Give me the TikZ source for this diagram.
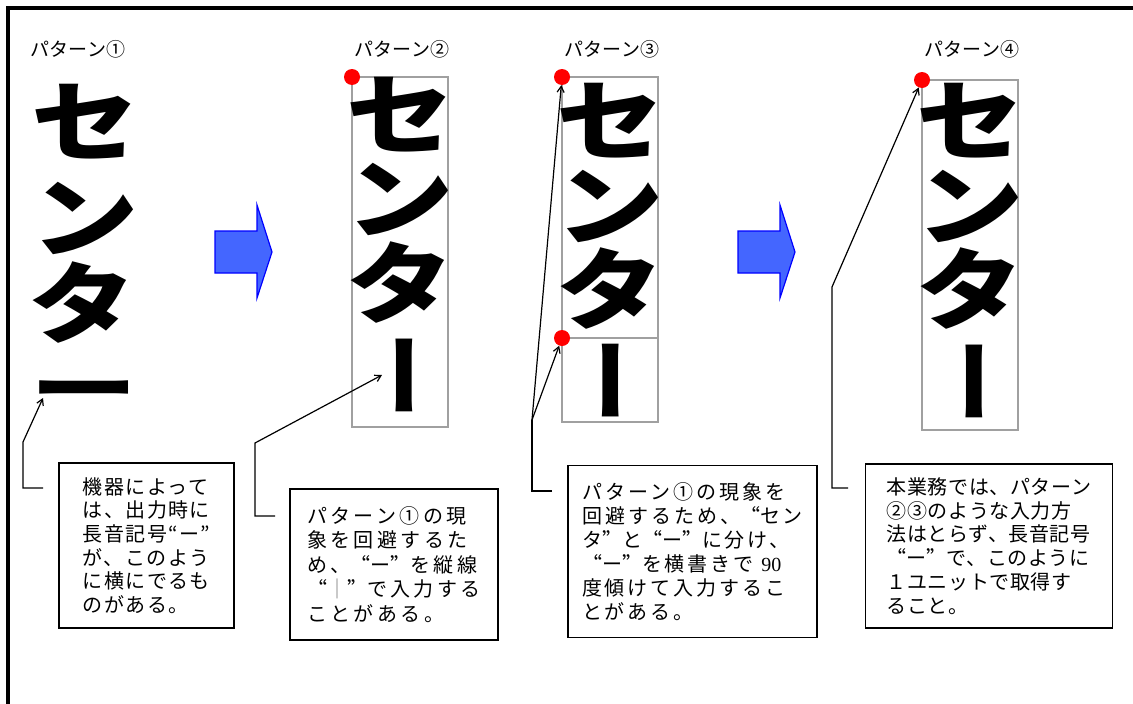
\documentclass[tikz,border=0pt]{standalone}
\usepackage{fontspec}
\newfontfamily\jp{Noto Sans CJK JP}
\newfontfamily\jpq{Noto Sans CJK SC}
\newfontfamily\latser{Liberation Serif}
\newcommand\ql{{\jpq “}}
\newcommand\qr{{\jpq ”}}
\usetikzlibrary{arrows.meta,calc}
\begin{document}
\begin{tikzpicture}[x=1pt,y=-1pt,
  bigglyph/.style={inner sep=0pt, anchor=center, font=\jp\bfseries\fontsize{88}{88}\selectfont},
  lbl/.style={inner sep=0pt, anchor=center, font=\jp\fontsize{19}{19}\selectfont},
  note/.style={draw=black, line width=1.5pt, inner sep=0pt, align=left, anchor=center},
  grayframe/.style={draw={rgb,255:red,160;green,160;blue,160}, line width=1.6pt},
  reddot/.style={circle, fill=red, inner sep=0pt, minimum size=16pt},
  conn/.style={line width=1.2pt, line join=miter, -{Straight Barb[length=6pt,width=7pt]}},
  bluearrow/.style={fill={rgb,255:red,68;green,102;blue,255}, draw={rgb,255:red,0;green,0;blue,255}, line width=1.2pt, line join=miter}]
\useasboundingbox (0,0) rectangle (1133,704);
\fill[white] (0,0) rectangle (1133,704);
% outer frame
\draw[line width=4pt, line join=miter] (8,704) -- (8,8) -- (1133,8);

% labels
\node[lbl] (l1) at (78,49) {パターン①};
\node[lbl] (l2) at (402,49) {パターン②};
\node[lbl] (l3) at (612,49) {パターン③};
\node[lbl] (l4) at (972,49) {パターン④};

% pattern 1
\node[bigglyph] (p1a) at (85,122) {\scalebox{1.22}[1]{セ}};
\node[bigglyph] (p1b) at (85,218) {\scalebox{1.22}[1]{ン}};
\node[bigglyph] (p1c) at (82,303) {\scalebox{1.22}[1]{タ}};
\node[bigglyph] (p1d) at (84,398) {\scalebox{1.22}[0.8]{ー}};

% pattern 2
\node[grayframe, minimum width=96pt, minimum height=350pt, inner sep=0pt] (f2) at (400,252) {};
\node[bigglyph] (p2a) at (400,115) {\scalebox{1.22}[1]{セ}};
\node[bigglyph] (p2b) at (400,199) {\scalebox{1.22}[1]{ン}};
\node[bigglyph] (p2c) at (400,283) {\scalebox{1.22}[1]{タ}};
\node[bigglyph] (p2d) at (392,375) {\rotatebox[origin=c]{-90}{ー}};
\node[reddot] (d2) at (352,77) {};

% pattern 3
\node[grayframe, minimum width=96pt, minimum height=261pt, inner sep=0pt] (f3a) at (610,207.5) {};
\node[grayframe, minimum width=96pt, minimum height=84pt, inner sep=0pt] (f3b) at (610,380) {};
\node[bigglyph] (p3a) at (610,121) {\scalebox{1.22}[1]{セ}};
\node[bigglyph] (p3b) at (610,206) {\scalebox{1.22}[1]{ン}};
\node[bigglyph] (p3c) at (610,289) {\scalebox{1.22}[1]{タ}};
\node[bigglyph] (p3d) at (623,380) {\rotatebox[origin=c]{90}{ー}};
\node[reddot] (d3a) at (562,77) {};
\node[reddot] (d3b) at (562,338) {};

% pattern 4
\node[grayframe, minimum width=96pt, minimum height=350pt, inner sep=0pt] (f4) at (970,255) {};
\node[bigglyph] (p4a) at (970,121) {\scalebox{1.22}[1]{セ}};
\node[bigglyph] (p4b) at (970,206) {\scalebox{1.22}[1]{ン}};
\node[bigglyph] (p4c) at (970,289) {\scalebox{1.22}[1]{タ}};
\node[bigglyph] (p4d) at (962,381) {\rotatebox[origin=c]{-90}{ー}};
\node[reddot] (d4) at (922,80) {};

% blue arrows
\draw[bluearrow] (215,231) -- (257,231) -- (257,205) -- (272,252) -- (257,298) -- (257,273) -- (215,273) -- cycle;
\begin{scope}[shift={(523,0)}]
\draw[bluearrow] (215,231) -- (257,231) -- (257,205) -- (272,252) -- (257,298) -- (257,273) -- (215,273) -- cycle;
\end{scope}

% notes
\node[note, minimum width=175pt, minimum height=165pt,
  font=\jp\fontsize{20}{23.7}\selectfont\addfontfeatures{LetterSpace=7}] (b1) at (146.5,545.5)
  {機器によって\\は、出力時に\\長音記号“ー”\\が、このよう\\に横にでるも\\のがある。};
\node[note, minimum width=208pt, minimum height=151pt,
  font=\jp\fontsize{20}{24.5}\selectfont\addfontfeatures{LetterSpace=17}] (b2) at (394,564.5)
  {パターン①の現\\象を回避するた\\め、\ql ー\qr を縦線\\\ql{\color{gray}｜}\qr で入力する\\ことがある。};
\node[note, minimum width=249pt, minimum height=172pt,
  font=\jp\fontsize{20}{24}\selectfont\addfontfeatures{LetterSpace=15}] (b3) at (692.5,551.5)
  {パターン①の現象を\\回避するため、\ql セン\\タ\qr と\ql ー\qr に分け、\\\ql ー\qr を横書きで {\latser 90}\\度傾けて入力するこ\\とがある。};
\node[note, minimum width=247pt, minimum height=164pt,
  font=\jp\fontsize{20}{23.8}\selectfont\addfontfeatures{LetterSpace=3}] (b4) at (989,546)
  {本業務では、パターン\\②③のような入力方\\法はとらず、長音記号\\\ql ー\qr で、このように\\１ユニットで取得す\\ること。};

% connectors
\coordinate (s1) at (43,488);
\coordinate (e1) at (43,398);
\draw[conn] (s1) -- (23,488) -- (23,442) -- (e1);
\coordinate (s2) at (275,516);
\coordinate (e2) at (382,375);
\draw[conn] (s2) -- (255,516) -- (255,443) -- (e2);
\coordinate (s3) at (552,491);
\coordinate (k3) at (532,420);
\draw[line width=1.2pt, line join=miter] (s3) -- (532,491) -- (k3);
\draw[conn] (k3) -- (d3a);
\draw[conn] (k3) -- (d3b);
\coordinate (s4) at (848,488);
\draw[conn] (s4) -- (832,488) -- (832,287) -- (d4);
\end{tikzpicture}
\end{document}
